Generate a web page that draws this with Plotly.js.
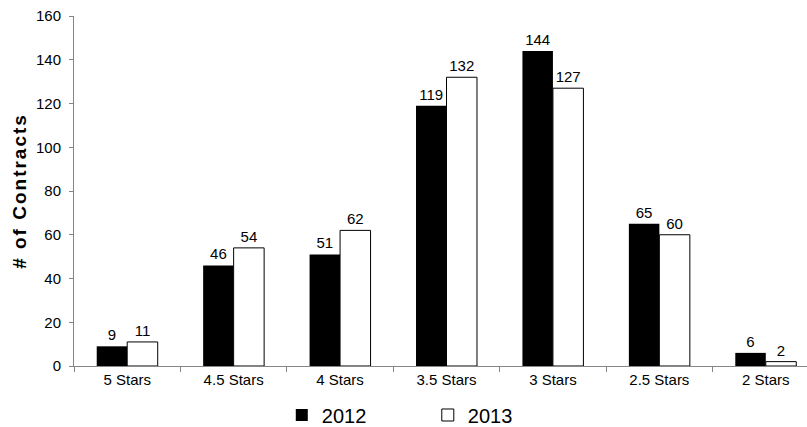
<!DOCTYPE html>
<html><head><meta charset="utf-8">
<script src="https://cdn.plot.ly/plotly-3.0.1.min.js"></script>
<style>html,body{margin:0;padding:0;overflow:hidden;width:807px;height:427px;background:#fff}#c{width:830px;height:447px}
.g-ytitle text{letter-spacing:2px}</style>
</head><body><div id="c"></div>
<script>
var categories = ["5 Stars","4.5 Stars","4 Stars","3.5 Stars","3 Stars","2.5 Stars","2 Stars"];
var values2012 = [9,46,51,119,144,65,6];
var values2013 = [11,54,62,132,127,60,2];
var yTicks = [0,20,40,60,80,100,120,140,160];

var FAM = "Liberation Sans, Arial, sans-serif";
var font = {family:FAM, size:15, color:"#000"};
var traces = [
  {type:"bar", name:"2012", x:categories, y:values2012, text:values2012.map(String),
   textposition:"outside", cliponaxis:false, textfont:{family:FAM,size:15,color:"#000"},
   marker:{color:"#000", line:{color:"#000", width:0}}},
  {type:"bar", name:"2013", x:categories, y:values2013, text:values2013.map(String),
   textposition:"outside", cliponaxis:false, textfont:{family:FAM,size:15,color:"#000"},
   marker:{color:"#fff", line:{color:"#000", width:1}}}
];
var layout = {
  width:830, height:447,
  margin:{l:74, r:11, t:16, b:81},
  paper_bgcolor:"#fff", plot_bgcolor:"#fff",
  barmode:"group", bargap:0.427, bargroupgap:0,
  font:font,
  showlegend:true,
  legend:{orientation:"h", xref:"container", yref:"container", x:0.3395, xanchor:"left",
          y:0.0716, yanchor:"middle",
          font:{family:FAM, size:20, color:"#000"},
          entrywidth:101, entrywidthmode:"pixels", itemwidth:30, tracegroupgap:0},
  xaxis:{type:"category", showline:true, linecolor:"#868686", linewidth:1,
         ticks:"outside", tickson:"boundaries", ticklen:5, tickcolor:"#868686",
         showgrid:false, zeroline:false, tickfont:font, automargin:false},
  yaxis:{range:[0,160], tickvals:yTicks, showline:true, linecolor:"#868686", linewidth:1,
         ticks:"outside", ticklen:4, tickcolor:"#868686", showgrid:false, zeroline:false,
         tickfont:font, ticklabelstandoff:5, automargin:false,
         title:{text:"# of Contracts", standoff:4,
                font:{family:FAM, size:19, color:"#000", weight:"bold"}}}
};
Plotly.newPlot("c", traces, layout, {displayModeBar:false, staticPlot:true});
</script></body></html>
